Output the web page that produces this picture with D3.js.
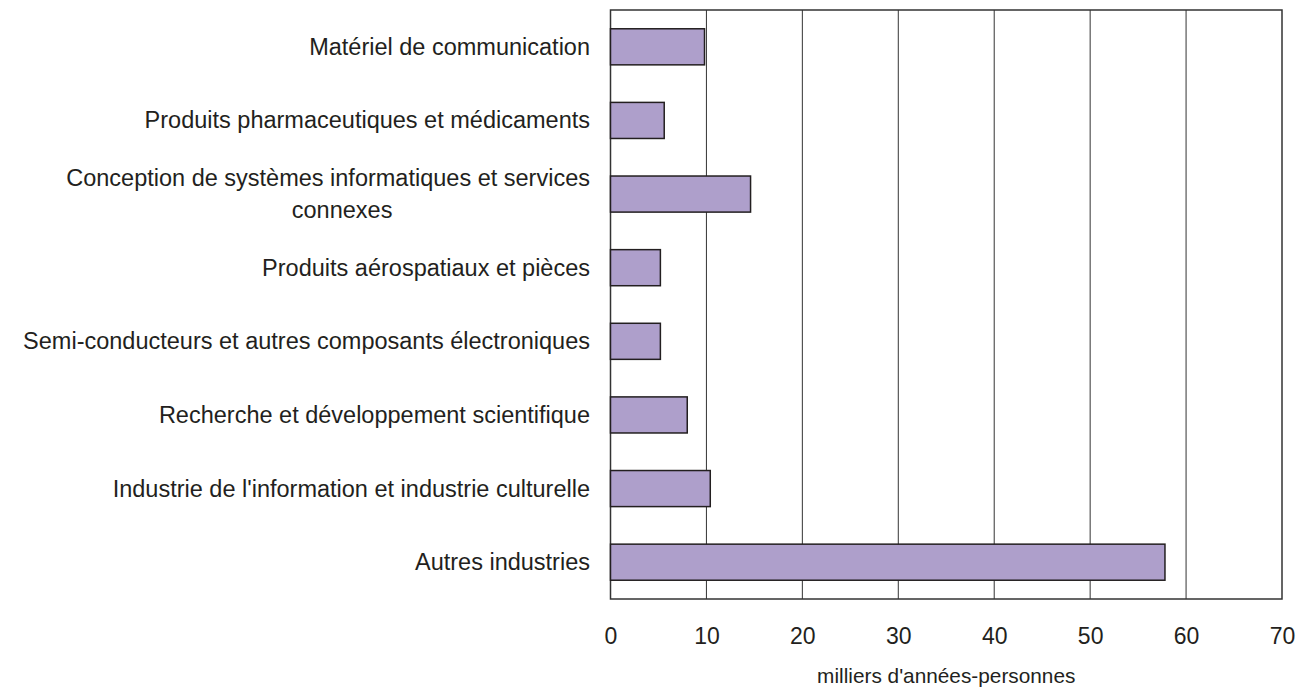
<!DOCTYPE html>
<html>
<head>
<meta charset="utf-8">
<script src="https://cdn.jsdelivr.net/npm/d3@7"></script>
<style>
  body { margin: 0; background: #fff; }
  text { font-family: "Liberation Sans", Arial, sans-serif; fill: #231f20; }
</style>
</head>
<body>
<div id="chart"></div>
<script>
// categories, top to bottom
var categories = [
    "Matériel de communication",
    "Produits pharmaceutiques et médicaments",
    "Conception de systèmes informatiques et services|connexes",
    "Produits aérospatiaux et pièces",
    "Semi-conducteurs et autres composants électroniques",
    "Recherche et développement scientifique",
    "Industrie de l'information et industrie culturelle",
    "Autres industries"
];
// milliers d'années-personnes
var values = [9.8, 5.6, 14.6, 5.2, 5.2, 8.0, 10.4, 57.8];
var tickValues = [0, 10, 20, 30, 40, 50, 60, 70];
var axisTitle = "milliers d'années-personnes";

const W = 1307, H = 689;
const margin = {top: 10, right: 25, bottom: 90, left: 610.5};

var svg = d3.select("#chart")
    .append("svg")
        .attr("width", W)
        .attr("height", H);

var xScale = d3.scaleLinear()
    .domain([0, 70])
    .range([margin.left, W - margin.right]);

var yScale = d3.scaleBand()
    .domain(d3.range(categories.length))
    .range([margin.top, H - margin.bottom])
    .paddingInner(0.51)
    .paddingOuter(0.255);

// gridlines
svg.append("g")
    .selectAll("line")
    .data(tickValues.filter(d => d > 0 && d < 70))
    .enter().append("line")
        .attr("x1", d => xScale(d))
        .attr("x2", d => xScale(d))
        .attr("y1", margin.top)
        .attr("y2", H - margin.bottom)
        .style("stroke", "#333")
        .style("stroke-width", 1);

// plot frame
svg.append("rect")
    .attr("x", margin.left)
    .attr("y", margin.top)
    .attr("width", xScale(70) - margin.left)
    .attr("height", H - margin.bottom - margin.top)
    .style("fill", "none")
    .style("stroke", "#333")
    .style("stroke-width", 1.5);

// bars
svg.selectAll(".bar")
    .data(values)
    .enter().append("rect")
        .attr("class", "bar")
        .attr("x", xScale(0))
        .attr("y", (d, i) => yScale(i))
        .attr("width", d => xScale(d) - xScale(0))
        .attr("height", yScale.bandwidth())
        .style("fill", "#ae9fcb")
        .style("stroke", "#231f20")
        .style("stroke-width", 1.5);

// x axis labels
const xAxis = d3.axisBottom(xScale).tickValues(tickValues).tickSize(0).tickPadding(0);
var xg = svg.append("g")
    .attr("transform", `translate(0,${H - margin.bottom})`)
    .call(xAxis);
xg.select(".domain").remove();
xg.selectAll("text")
    .attr("y", 45)
    .attr("dy", 0)
    .style("font-family", "'Liberation Sans', Arial, sans-serif")
    .style("font-size", "23px")
    .style("fill", "#231f20");

// axis title
svg.append("text")
    .attr("x", (xScale(0) + xScale(70)) / 2)
    .attr("y", 683)
    .style("text-anchor", "middle")
    .style("font-size", "20.8px")
    .text(axisTitle);

// category labels
var labelX = 590;
var fs = "23.5px";
categories.forEach(function(c, i) {
    var lines = c.split("|");
    var cy = yScale(i) + yScale.bandwidth() / 2;
    if (lines.length == 1) {
        svg.append("text")
            .attr("x", labelX)
            .attr("y", cy + 8)
            .style("text-anchor", "end")
            .style("font-size", fs)
            .text(lines[0]);
    } else {
        var first = svg.append("text")
            .attr("x", labelX)
            .attr("y", cy - 8)
            .style("text-anchor", "end")
            .style("font-size", fs)
            .text(lines[0]);
        var w = first.node().getComputedTextLength();
        svg.append("text")
            .attr("x", labelX - w / 2 + 14)
            .attr("y", cy + 24)
            .style("text-anchor", "middle")
            .style("font-size", fs)
            .text(lines[1]);
    }
});
</script>
</body>
</html>
